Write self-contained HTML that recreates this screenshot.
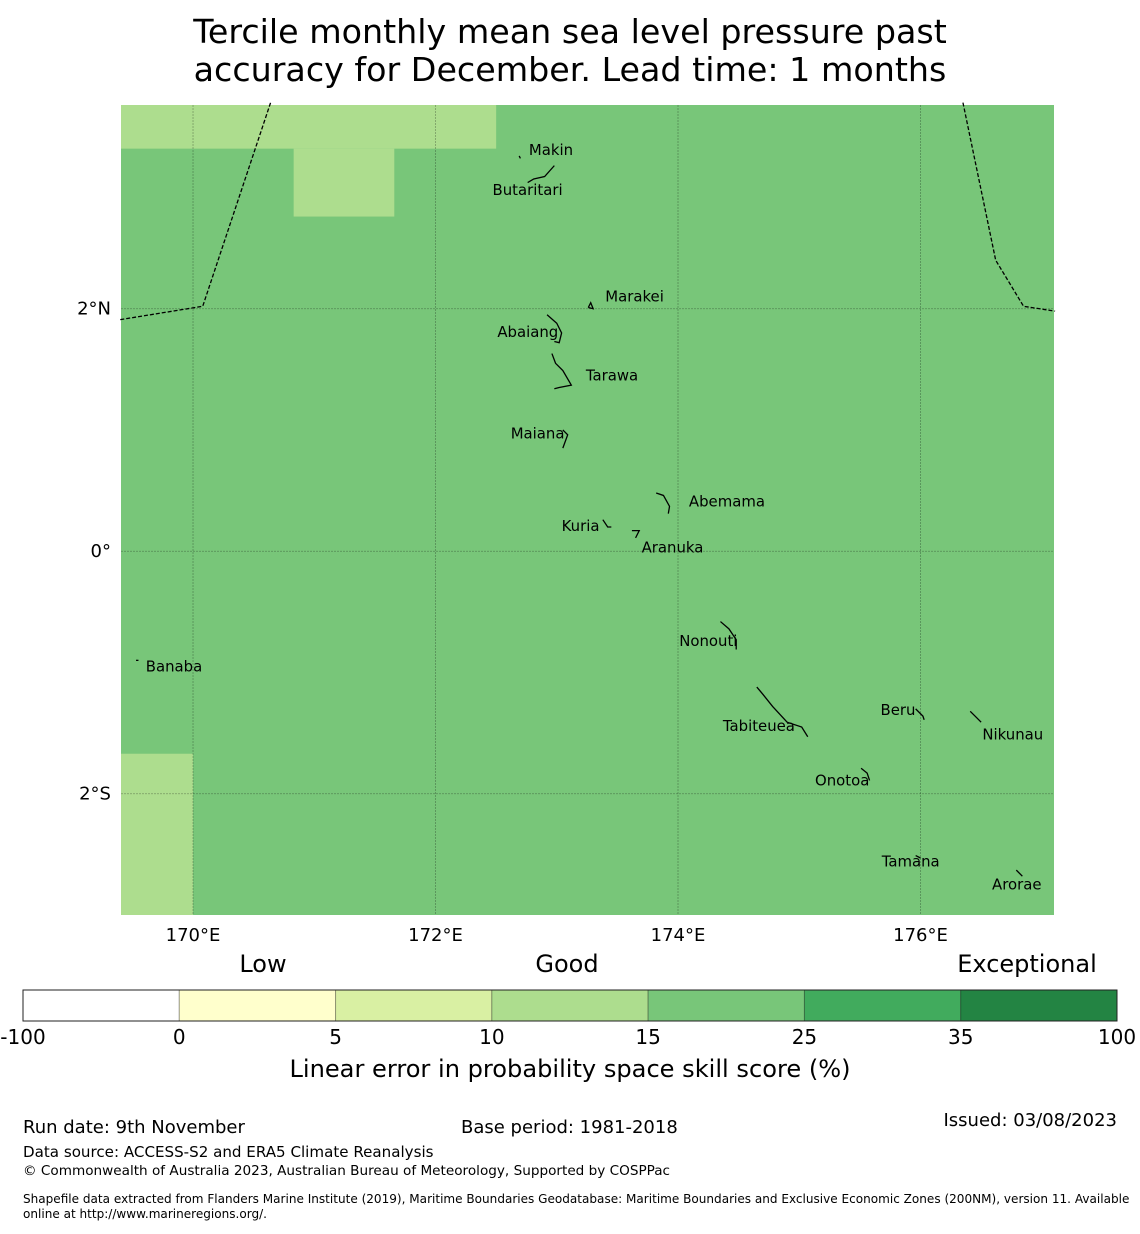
<!DOCTYPE html>
<html><head><meta charset="utf-8"><style>
body{margin:0;background:#fff;font-family:"DejaVu Sans","Liberation Sans",sans-serif;}
svg text{font-family:"DejaVu Sans","Liberation Sans",sans-serif;}
</style></head><body>
<svg id="chart" width="1140" height="1230" viewBox="0 0 1140 1230" xmlns="http://www.w3.org/2000/svg">
<text x="570" y="43" font-size="33.3" text-anchor="middle">Tercile monthly mean sea level pressure past</text>
<text x="570" y="81" font-size="33.3" text-anchor="middle">accuracy for December. Lead time: 1 months</text>
<g id="map"></g>
<g id="cbar"></g>
<text x="570" y="1077" font-size="24.1" text-anchor="middle">Linear error in probability space skill score (%)</text>
<text x="23" y="1133" font-size="18">Run date: 9th November</text>
<text x="461" y="1133" font-size="18">Base period: 1981-2018</text>
<text x="1117" y="1126" font-size="18" text-anchor="end">Issued: 03/08/2023</text>
<text x="23" y="1157" font-size="15.1">Data source: ACCESS-S2 and ERA5 Climate Reanalysis</text>
<text x="23" y="1175" font-size="13.6">© Commonwealth of Australia 2023, Australian Bureau of Meteorology, Supported by COSPPac</text>
<text x="23" y="1203" font-size="12.05">Shapefile data extracted from Flanders Marine Institute (2019), Maritime Boundaries Geodatabase: Maritime Boundaries and Exclusive Economic Zones (200NM), version 11. Available</text>
<text x="23" y="1218" font-size="12.05">online at http://www.marineregions.org/.</text>
</svg>
<script>
// ---- data ----
const lonTicks=[170,172,174,176];
const lonTickLabels=["170°E","172°E","174°E","176°E"];
const latTicks=[2,0,-2];
const latTickLabels=["2°N","0°","2°S"];
const cellLon0=[169.406,170.83,169.406];
const cellLon1=[172.5,171.66,170.0];
const cellLat0=[3.32,2.76,-3.0];
const cellLat1=[3.68,3.32,-1.67];
const cellCategory=[3,3,3];
const backgroundCategory=4;
const cbarBounds=["-100","0","5","10","15","25","35","100"];
const cbarColors=["#ffffff","#ffffcc","#d9f0a3","#addd8e","#78c679","#41ab5d","#238443"];
const cbarCatLabels=["Low","Good","Exceptional"];
const islandNames=["Makin","Butaritari","Marakei","Abaiang","Tarawa","Maiana","Abemama","Kuria","Aranuka","Nonouti","Banaba","Tabiteuea","Beru","Nikunau","Onotoa","Tamana","Arorae"];
const islandLabelLon=[172.77,172.47,173.40,172.51,173.24,172.62,174.09,173.04,173.70,174.01,169.61,174.37,175.67,176.51,175.13,175.68,176.59];
const islandLabelLat=[3.31,2.98,2.10,1.81,1.45,0.97,0.41,0.21,0.03,-0.74,-0.95,-1.44,-1.31,-1.51,-1.89,-2.56,-2.75];
const islandShapes=[
 [[172.69,3.26],[172.70,3.24]],
 [[172.76,3.04],[172.81,3.07],[172.90,3.09],[172.98,3.18]],
 [[173.26,2.01],[173.28,2.05],[173.30,2.00],[173.26,2.01]],
 [[172.92,1.95],[173.0,1.88],[173.04,1.80],[173.02,1.72],[172.98,1.73]],
 [[172.96,1.63],[172.99,1.55],[173.05,1.49],[173.12,1.37],[173.02,1.35],[172.98,1.34]],
 [[173.05,1.00],[173.09,0.96],[173.05,0.85]],
 [[173.82,0.48],[173.88,0.46],[173.93,0.37],[173.92,0.31]],
 [[173.38,0.26],[173.42,0.20],[173.45,0.20]],
 [[173.62,0.17],[173.68,0.17],[173.65,0.11]],
 [[174.35,-0.58],[174.42,-0.64],[174.48,-0.73],[174.48,-0.81]],
 [[169.53,-0.90],[169.55,-0.90]],
 [[174.65,-1.12],[174.70,-1.18],[174.78,-1.28],[174.90,-1.41],[175.02,-1.45],[175.07,-1.53]],
 [[175.96,-1.30],[176.02,-1.36],[176.03,-1.39]],
 [[176.41,-1.32],[176.46,-1.37],[176.50,-1.41]],
 [[175.51,-1.79],[175.56,-1.83],[175.58,-1.89]],
 [[175.96,-2.51],[176.00,-2.53]],
 [[176.79,-2.63],[176.84,-2.68]]
];
const eezA=[[169.40,1.91],[170.08,2.02],[170.64,3.70]];
const eezB=[[176.35,3.70],[176.62,2.40],[176.85,2.02],[177.11,1.98]];
// ---- axes ----
const X0=121,X1=1054,Y0=105,Y1=915;
const LON0=169.406,LON1=177.101,LAT0=-3.0,LAT1=3.68;
const xS=lon=>X0+(lon-LON0)/(LON1-LON0)*(X1-X0);
const yS=lat=>Y1-(lat-LAT0)/(LAT1-LAT0)*(Y1-Y0);
const NS="http://www.w3.org/2000/svg";
function mk(tag,attrs,parent,txt){const e=document.createElementNS(NS,tag);for(const k in attrs)e.setAttribute(k,attrs[k]);if(txt!==undefined)e.textContent=txt;parent.appendChild(e);return e;}
const map=document.getElementById('map');
let bg=mk('rect',{x:X0,y:Y0,width:X1-X0,height:Y1-Y0,fill:cbarColors[backgroundCategory]},map);


cellLon0.forEach((l,i)=>{
 const r=mk('rect',{x:xS(l),y:yS(cellLat1[i]),width:xS(cellLon1[i])-xS(l),height:yS(cellLat0[i])-yS(cellLat1[i]),fill:cbarColors[cellCategory[i]]},map);
 
 
});
lonTicks.forEach((t,i)=>{
 const l=mk('line',{x1:xS(t),x2:xS(t),y1:Y0,y2:Y1,stroke:'#000','stroke-opacity':0.3,'stroke-width':0.8,'stroke-dasharray':'2,1'},map);
 
 
 const tx=mk('text',{x:xS(t),y:941,'font-size':18,'text-anchor':'middle'},map,lonTickLabels[i]);
 
 
});
latTicks.forEach((t,i)=>{
 const l=mk('line',{x1:X0,x2:X1,y1:yS(t),y2:yS(t),stroke:'#000','stroke-opacity':0.3,'stroke-width':0.8,'stroke-dasharray':'2,1'},map);
 
 
 const tx=mk('text',{x:111,y:yS(t)+6,'font-size':18,'text-anchor':'end'},map,latTickLabels[i]);
 
 
});
[eezA,eezB].forEach(b=>{
 const p=mk('polyline',{points:b.map(q=>xS(q[0])+','+yS(q[1])).join(' '),fill:'none',stroke:'#000','stroke-width':1.3,'stroke-dasharray':'4,2'},map);
 
 
});
islandShapes.forEach(s=>{
 const p=mk('polyline',{points:s.map(q=>xS(q[0])+','+yS(q[1])).join(' '),fill:'none',stroke:'#000','stroke-width':1.3},map);
 
 
});
islandNames.forEach((n,i)=>{
 const t=mk('text',{x:xS(islandLabelLon[i]),y:yS(islandLabelLat[i])+5,'font-size':14.9},map,n);
 
 
});
// ---- colorbar ----
const cb=document.getElementById('cbar');
const CX0=23,CX1=1117,CY=990,CH=31;
const segW=(CX1-CX0)/cbarColors.length;
cbarColors.forEach((c,i)=>{
 const r=mk('rect',{x:CX0+i*segW,y:CY,width:segW,height:CH,fill:c,stroke:'rgba(0,0,0,0.3)','stroke-width':1},cb);
 
 
});
let ob=mk('rect',{x:CX0,y:CY,width:CX1-CX0,height:CH,fill:'none',stroke:'#222','stroke-width':1},cb);


cbarBounds.forEach((b,i)=>{
 const t=mk('text',{x:CX0+i*segW,y:1044,'font-size':20,'text-anchor':'middle'},cb,b);
 
 
});
const catX=[263,567,1027];
cbarCatLabels.forEach((c,i)=>{
 const t=mk('text',{x:catX[i],y:972,'font-size':24,'text-anchor':'middle'},cb,c);
 
 
});
</script>
</body></html>
